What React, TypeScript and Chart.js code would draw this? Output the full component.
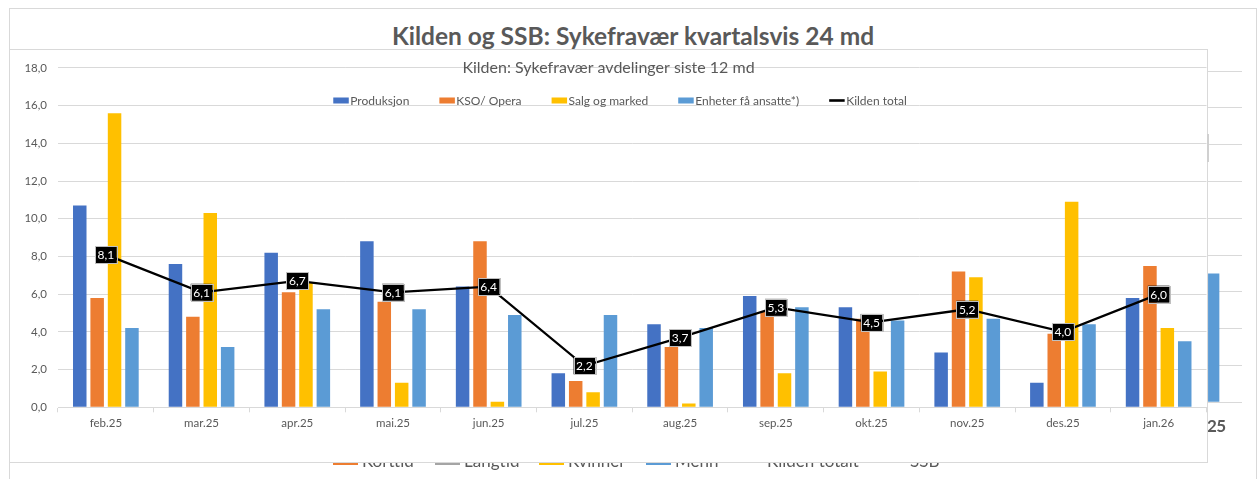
import React, { useEffect, useRef } from 'react';
import { Chart, registerables } from 'chart.js';

Chart.register(...registerables);

const FONT = "Lato, 'Open Sans', 'Noto Sans', sans-serif";
const TEXT_GRAY = '#595959';
const GRID = '#d9d9d9';

// ---- Inner chart data ----
const outerTitle = 'Kilden og SSB: Sykefravær kvartalsvis 24 md';
const innerTitle = 'Kilden: Sykefravær avdelinger siste 12 md';
const months = ['feb.25', 'mar.25', 'apr.25', 'mai.25', 'jun.25', 'jul.25', 'aug.25', 'sep.25', 'okt.25', 'nov.25', 'des.25', 'jan.26'];
const produksjon = [10.7, 7.6, 8.2, 8.8, 6.4, 1.8, 4.4, 5.9, 5.3, 2.9, 1.3, 5.8];
const ksoOpera = [5.8, 4.8, 6.1, 5.6, 8.8, 1.4, 3.2, 5.1, 4.7, 7.2, 3.9, 7.5];
const salgOgMarked = [15.6, 10.3, 6.6, 1.3, 0.3, 0.8, 0.2, 1.8, 1.9, 6.9, 10.9, 4.2];
const enheterFaAnsatte = [4.2, 3.2, 5.2, 5.2, 4.9, 4.9, 4.2, 5.3, 4.6, 4.7, 4.4, 3.5];
const kildenTotal = [8.1, 6.1, 6.7, 6.1, 6.4, 2.2, 3.7, 5.3, 4.5, 5.2, 4.0, 6.0];
const yMin = 0;
const yMax = 18;
const yStep = 2;

const seriesNames = ['Produksjon', 'KSO/ Opera', 'Salg og marked', 'Enheter få ansatte*)', 'Kilden total'];
const seriesColors = ['#4472C4', '#ED7D31', '#FFC000', '#5B9BD5', '#000000'];

// ---- Background (outer) chart remnants ----
const outerCategories = ['2025'];
const outerKorttid: (number | null)[] = [null];
const outerLangtid: (number | null)[] = [null];
const outerKvinner: (number | null)[] = [null];
const outerMenn: (number | null)[] = [3.5];
const outerYMax = 9;
const outerLegendNames = ['Korttid', 'Langtid', 'Kvinner', 'Menn', 'Kilden totalt', 'SSB'];
const outerLegendColors = ['#ED7D31', '#A5A5A5', '#FFC000', '#5B9BD5', '#000000', '#7F7F7F'];
const outerLegendKinds = ['box', 'box', 'box', 'box', 'line', 'line'];
const outerTickLabel = '25';

const fmt = (v: number) => v.toFixed(1).replace('.', ',');

const overlayPlugin = {
  id: 'overlayTitleLegend',
  afterDraw(chart: any) {
    const ctx = chart.ctx as CanvasRenderingContext2D;
    ctx.save();
    // title
    ctx.font = `16px ${FONT}`;
    ctx.fillStyle = TEXT_GRAY;
    ctx.textAlign = 'center';
    ctx.textBaseline = 'middle';
    ctx.fillText(innerTitle, chart.width / 2, 18);

    // legend
    ctx.font = `12px ${FONT}`;
    ctx.textAlign = 'left';
    const swW = 15.5;
    const txtOff = 17;
    const gap = 30;
    const widths = seriesNames.map((n) => txtOff + ctx.measureText(n).width);
    const total = widths.reduce((a, b) => a + b, 0) + gap * (widths.length - 1);
    let x = 610 - total / 2;
    const cy = 50.5;
    seriesNames.forEach((n, i) => {
      ctx.fillStyle = seriesColors[i];
      if (i === seriesNames.length - 1) {
        ctx.fillRect(x, cy - 1.3, swW, 2.6);
      } else {
        ctx.fillRect(x, cy - 3, swW, 6);
      }
      ctx.fillStyle = TEXT_GRAY;
      ctx.fillText(n, x + txtOff, cy + 0.5);
      x += widths[i] + gap;
    });
    ctx.restore();
  },
};

const totalLabelPlugin = {
  id: 'totalLabels',
  afterDatasetsDraw(chart: any) {
    const ctx = chart.ctx as CanvasRenderingContext2D;
    const idx = chart.data.datasets.findIndex((d: any) => d.type === 'line');
    if (idx < 0) return;
    const meta = chart.getDatasetMeta(idx);
    ctx.save();
    ctx.font = `12px ${FONT}`;
    ctx.textAlign = 'center';
    ctx.textBaseline = 'middle';
    meta.data.forEach((pt: any, i: number) => {
      const txt = fmt(chart.data.datasets[idx].data[i]);
      const w = ctx.measureText(txt).width + 5;
      const h = 17;
      ctx.fillStyle = '#000';
      ctx.fillRect(pt.x - w / 2, pt.y - h / 2, w, h);
      ctx.strokeStyle = '#bfbfbf';
      ctx.lineWidth = 1;
      ctx.strokeRect(Math.round(pt.x - w / 2) + 0.5, Math.round(pt.y - h / 2) + 0.5, Math.round(w), h);
      ctx.fillStyle = '#fff';
      ctx.fillText(txt, pt.x, pt.y + 0.5);
    });
    ctx.restore();
  },
};

export default function App() {
  const innerRef = useRef<HTMLCanvasElement>(null);
  const outerRef = useRef<HTMLCanvasElement>(null);

  useEffect(() => {
    Chart.defaults.font.family = FONT;
    const barSeries = [produksjon, ksoOpera, salgOgMarked, enheterFaAnsatte];
    const inner = new Chart(innerRef.current as HTMLCanvasElement, {
      type: 'bar',
      data: {
        labels: months,
        datasets: [
          ...barSeries.map((d, i) => ({
            type: 'bar' as const,
            label: seriesNames[i],
            data: d,
            backgroundColor: seriesColors[i],
            borderWidth: 0,
            order: 1,
            categoryPercentage: 0.727,
            barPercentage: 0.776,
          })),
          {
            type: 'line' as const,
            label: seriesNames[4],
            data: kildenTotal,
            borderColor: '#000',
            backgroundColor: '#000',
            borderWidth: 2.3,
            pointRadius: 0,
            tension: 0,
            order: 0,
          },
        ],
      } as any,
      options: {
        responsive: false,
        animation: false,
        layout: { padding: { left: 8, top: 14.3, right: 0.5, bottom: 14.7 } },
        plugins: { legend: { display: false }, title: { display: false }, tooltip: { enabled: false } },
        scales: {
          x: {
            grid: { display: true, drawOnChartArea: false, drawTicks: true, tickLength: 5, color: GRID, offset: true },
            border: { display: true, color: GRID },
            ticks: { color: TEXT_GRAY, font: { size: 11.5, family: FONT }, padding: 4, maxRotation: 0, autoSkip: false },
            afterFit: (s: any) => { s.height = 40; },
          },
          y: {
            min: yMin,
            max: yMax,
            ticks: { stepSize: yStep, color: TEXT_GRAY, font: { size: 11.5, family: FONT }, padding: 11, callback: (v: any) => fmt(Number(v)) },
            grid: { color: GRID, drawTicks: false },
            border: { display: false },
            afterFit: (s: any) => { s.width = 40; },
          },
        },
      } as any,
      plugins: [overlayPlugin, totalLabelPlugin],
    });

    const outerSeries = [outerKorttid, outerLangtid, outerKvinner, outerMenn];
    const outer = new Chart(outerRef.current as HTMLCanvasElement, {
      type: 'bar',
      data: {
        labels: outerCategories,
        datasets: outerSeries.map((d, i) => ({
          label: outerLegendNames[i],
          data: d,
          backgroundColor: outerLegendColors[i],
          borderWidth: 0,
          categoryPercentage: 0.802,
          barPercentage: 0.397,
        })),
      },
      options: {
        responsive: false,
        animation: false,
        layout: { padding: { left: 0, top: 11, right: 8, bottom: 17.7 } },
        plugins: { legend: { display: false }, tooltip: { enabled: false } },
        scales: {
          x: { display: false },
          y: {
            min: 0,
            max: outerYMax,
            ticks: { display: false, stepSize: 1 },
            grid: { color: GRID, drawTicks: false },
            border: { display: false },
            afterFit: (s: any) => { s.width = 0; },
          },
        },
      } as any,
    });

    return () => {
      inner.destroy();
      outer.destroy();
    };
  }, []);

  const outerLegendLefts = [333, 435, 539, 646, 738, 881];

  return (
    <div style={{ position: 'fixed', left: 0, top: 0, width: 1257, height: 479, overflow: 'hidden', background: '#fff', fontFamily: FONT }}>
      {/* outer chart frame */}
      <div style={{ position: 'absolute', left: 9, top: 8, width: 1248, height: 520, border: `1px solid ${GRID}`, boxSizing: 'border-box' }} />
      <div style={{ position: 'absolute', left: 9, top: 21, width: 1248, textAlign: 'center', fontSize: 24.5, lineHeight: '30px', fontWeight: 700, color: TEXT_GRAY }}>
        {outerTitle}
      </div>
      <canvas ref={outerRef} width={150} height={360} style={{ position: 'absolute', left: 1100, top: 60, display: 'block' }} />
      <div style={{ position: 'absolute', left: 1207, top: 415, fontSize: 17, lineHeight: '22px', fontWeight: 700, color: TEXT_GRAY, letterSpacing: -0.5 }}>
        {outerTickLabel}
      </div>
      {outerLegendNames.map((n, i) => (
        <div key={n} style={{ position: 'absolute', left: outerLegendLefts[i], top: 451, height: 20, whiteSpace: 'nowrap' }}>
          <div
            style={{
              position: 'absolute',
              left: 0,
              top: outerLegendKinds[i] === 'box' ? 5 : 8,
              width: 25,
              height: outerLegendKinds[i] === 'box' ? 9 : 3,
              background: outerLegendColors[i],
            }}
          />
          <div style={{ position: 'absolute', left: 29, top: 0, fontSize: 17, lineHeight: '20px', color: TEXT_GRAY }}>{n}</div>
        </div>
      ))}
      {/* inner chart box */}
      <div style={{ position: 'absolute', left: 9, top: 49, width: 1199, height: 414, border: `1px solid ${GRID}`, boxSizing: 'border-box', background: '#fff', zIndex: 2 }}>
        <canvas ref={innerRef} width={1197} height={412} style={{ display: 'block' }} />
      </div>
      <div style={{ position: 'absolute', left: 1207, top: 134, width: 2, height: 28, background: '#d0d0d0', zIndex: 3 }} />
    </div>
  );
}
